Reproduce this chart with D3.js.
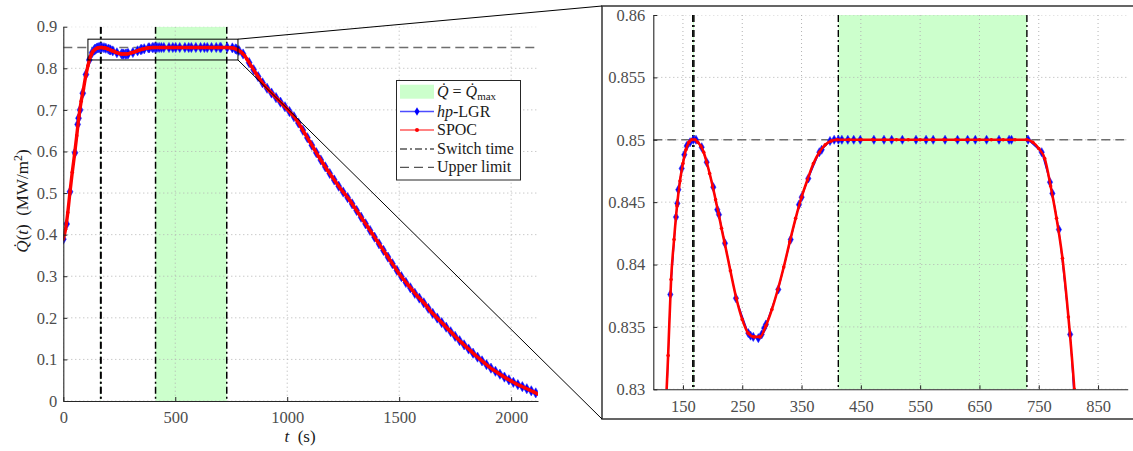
<!DOCTYPE html>
<html>
<meta charset=utf-8>
<head>
<script src="https://d3js.org/d3.v7.min.js"></script>
<style>
body { margin: 0; background: #fff; }
text { font-family: "Liberation Serif", "Times New Roman", serif; }
</style>
</head>
<body>
<script>

// switching structure / constraint
var switchTimes = [166.5, 168.5, 412, 730];
var maxArcStart = [166.5, 412];
var maxArcEnd = [168.5, 730];
var upperLimit = [0.85];

// SPOC solution (dense)
var spocTime = [0,10,20,30,40,50,60,70,80,90,100,110,120,125,130,135,140,145,150,155,160,165,170,175,180,185,190,195,200,205,210,215,220,230,240,250,260,270,280,290,300,310,320,330,340,350,360,370,380,390,400,
  410,430,450,470,490,510,530,550,570,590,610,630,650,670,690,710,730,740,750,760,770,780,790,800,810,820,
  840,860,880,900,920,940,960,980,1000,1020,1040,1060,1080,1100,1120,1140,1160,1180,1200,1220,1240,1260,1280,1300,
  1320,1340,1360,1380,1400,1420,1440,1460,1480,1500,1520,1540,1560,1580,1600,1620,1640,1660,1680,1700,1720,1740,1760,
  1780,1800,1820,1840,1860,1880,1900,1920,1940,1960,1980,2000,2020,2040,2060,2080,2100,2118];
var spocQ = [0.389,0.413,0.453,0.503,0.550,0.592,0.638,0.685,0.721,0.750,0.781,0.806,0.827,0.8327,0.8388,0.8420,0.8447,0.8467,0.8481,0.8492,0.8498,0.8500,0.8500,0.8498,0.8495,0.8490,0.8482,0.8473,0.8463,0.8452,0.8441,0.8429,0.8418,0.8395,0.8373,0.8356,0.8345,0.8342,0.8342,0.8351,0.8364,0.8380,0.8398,0.8418,0.8437,0.8454,0.8468,0.8481,0.8490,0.8496,0.8499,
  0.85,0.85,0.85,0.85,0.85,0.85,0.85,0.85,0.85,0.85,0.85,0.85,0.85,0.85,0.85,0.85,0.85,0.8498,0.8493,0.8485,0.8463,0.8437,0.8405,0.8358,0.8300,0.8220,
  0.805,0.788,0.772,0.758,0.746,0.735,0.724,0.713,0.702,0.690,0.677,0.660,0.642,0.624,0.606,0.588,0.571,0.555,0.539,0.524,0.509,0.496,0.482,0.466,
  0.450,0.434,0.418,0.402,0.386,0.370,0.354,0.338,0.322,0.306,0.292,0.279,0.266,0.253,0.242,0.230,0.216,0.205,0.194,0.183,0.172,0.161,0.150,
  0.140,0.130,0.120,0.110,0.101,0.092,0.083,0.075,0.068,0.061,0.054,0.048,0.042,0.037,0.032,0.027,0.022,0.017];

// hp-LGR solution (mesh points)
var hpTime = [0,15,30,52,64,68,75,87,101,116,128.7,138.3,140.5,142.2,147.9,152.3,156.3,162,167.5,172,181.6,190,201.2,207.9,210.8,220.9,239.4,260.2,264,268.6,277.1,282.8,287,290,310.8,331.7,345.7,350.2,361.4,380,384,398,
  405,412,418,428,438,449,472,489,502,520,543,560,572,592,613,630,643,662,683,700,704,732,755,769,773,784,803,
  830,850,870,890,910,930,950,970,990,1010,1030,1050,1070,1090,1110,1130,1150,1170,1190,1210,1230,1250,1270,1290,1310,1330,1350,1370,1390,1410,1430,1450,1470,1490,
  1510,1530,1550,1570,1590,1610,1630,1650,1670,1690,1710,1730,1750,1770,1790,1810,1830,1850,1870,1890,1910,1930,1950,1970,1990,2010,2030,2050,2070,2090,2110];
var hpQ = [0.389,0.4256,0.503,0.597,0.665,0.680,0.700,0.740,0.785,0.820,0.8376,0.8438,0.8449,0.8460,0.8477,0.8488,0.8495,0.8498,0.8500,0.8500,0.8494,0.8482,0.8462,0.8444,0.8440,0.8417,0.8373,0.8345,0.8343,0.8342,0.8341,0.8344,0.8349,0.8352,0.8380,0.8420,0.8448,0.8454,0.8469,0.8490,0.8492,0.8499,
  0.85,0.85,0.85,0.85,0.85,0.85,0.85,0.85,0.85,0.85,0.85,0.85,0.85,0.85,0.85,0.85,0.85,0.85,0.85,0.85,0.85,0.85,0.8490,0.8466,0.8457,0.8428,0.8344,
  0.8135,0.7965,0.780,0.765,0.752,0.7405,0.7295,0.7185,0.7075,0.696,0.6835,0.6685,0.651,0.633,0.615,0.597,0.5795,0.563,0.547,0.5315,0.5165,0.5025,0.489,0.474,0.458,0.442,0.426,0.410,0.394,0.378,0.362,0.346,0.330,0.314,
  0.299,0.285,0.272,0.259,0.2475,0.236,0.223,0.2105,0.1995,0.1885,0.1775,0.1665,0.1555,0.145,0.135,0.125,0.115,0.1055,0.0965,0.0875,0.079,0.0715,0.0645,0.0575,0.051,0.045,0.0395,0.0345,0.0295,0.0245,0.0195];

// axes
var xTicksMain = [0,500,1000,1500,2000];
var yTicksMain = [0,0.1,0.2,0.3,0.4,0.5,0.6,0.7,0.8,0.9];
var xTicksZoom = [150,250,350,450,550,650,750,850];
var yTicksZoom = [0.83,0.835,0.84,0.845,0.85,0.855,0.86];
var zoomT = [110, 780];
var zoomQ = [0.82, 0.87];

var legendLabels = ["Qmax", "hp-LGR", "SPOC", "Switch time", "Upper limit"];

var W = 1133, H = 451;
var svg = d3.select("body").append("svg").attr("width", W).attr("height", H);

var spoc = spocTime.map(function(t, i){ return [t, spocQ[i]]; });
var hp = hpTime.map(function(t, i){ return [t, hpQ[i]]; });

var xL = d3.scaleLinear().domain([0, 2120]).range([63.3, 538]);
var yL = d3.scaleLinear().domain([0, 0.9]).range([401, 26.7]);
var xR = d3.scaleLinear().domain([100, 900]).range([653.3, 1127.7]);
var yR = d3.scaleLinear().domain([0.83, 0.86]).range([389.3, 15]);

function panel(id, x, y, xTicks, yTicks, yFmt, yPad, swWidth, mSize, redW) {
  var g = svg.append("g");
  var x0 = x.range()[0], x1 = x.range()[1], y0 = y.range()[1], y1 = y.range()[0];

  g.append("clipPath").attr("id", id)
    .append("rect").attr("x", x0).attr("y", y0).attr("width", x1 - x0).attr("height", y1 - y0);
  var c = g.append("g").attr("clip-path", "url(#" + id + ")");

  // Qdot = Qmax arcs
  c.selectAll(".arc").data(maxArcStart).enter().append("rect")
    .attr("x", function(d){ return x(d); })
    .attr("width", function(d, i){ return x(maxArcEnd[i]) - x(d); })
    .attr("y", y0).attr("height", y1 - y0)
    .attr("fill", "#ccffcc");

  // dotted grid
  c.selectAll(".gx").data(xTicks).enter().append("line")
    .attr("x1", x).attr("x2", x).attr("y1", y0).attr("y2", y1)
    .attr("stroke", "#b3b3b3").attr("stroke-width", 1).attr("stroke-dasharray", "1,3");
  c.selectAll(".gy").data(yTicks).enter().append("line")
    .attr("x1", x0).attr("x2", x1).attr("y1", y).attr("y2", y)
    .attr("stroke", "#b3b3b3").attr("stroke-width", 1).attr("stroke-dasharray", "1,3");

  // upper limit
  c.selectAll(".ul").data(upperLimit).enter().append("line")
    .attr("x1", x0).attr("x2", x1).attr("y1", y).attr("y2", y)
    .attr("stroke", "#6e6e6e").attr("stroke-width", 1.3).attr("stroke-dasharray", "9,5");

  // switch times
  c.selectAll(".sw").data(switchTimes).enter().append("line")
    .attr("x1", x).attr("x2", x).attr("y1", y0).attr("y2", y1)
    .attr("stroke", "#000").attr("stroke-width", swWidth).attr("stroke-dasharray", "7,3,2,3");

  var line = d3.line().x(function(d){ return x(d[0]); }).y(function(d){ return y(d[1]); });

  c.append("path").datum(hp).attr("d", line)
    .attr("fill", "none").attr("stroke", "#0000ff").attr("stroke-width", 1.2);
  c.selectAll(".hp").data(hp).enter().append("path")
    .attr("transform", function(d){ return "translate(" + x(d[0]) + "," + y(d[1]) + ")"; })
    .attr("d", d3.symbol().type(d3.symbolDiamond).size(mSize))
    .attr("fill", "#0000ff").attr("stroke", "#2a2aff").attr("stroke-width", 0.6);

  c.append("path").datum(spoc).attr("d", d3.line().curve(d3.curveMonotoneX).x(function(d){ return x(d[0]); }).y(function(d){ return y(d[1]); }))
    .attr("fill", "none").attr("stroke", "#ff0000").attr("stroke-width", redW);
  c.selectAll(".sp").data(spoc).enter().append("circle")
    .attr("cx", function(d){ return x(d[0]); }).attr("cy", function(d){ return y(d[1]); })
    .attr("r", 1.8).attr("fill", "#ff0000");

  // axes
  var ax = g.append("g").attr("transform", "translate(0," + y1 + ")")
    .call(d3.axisBottom(x).tickValues(xTicks).tickSizeInner(-4).tickSizeOuter(0).tickPadding(10.5).tickFormat(d3.format("d")));
  var ay = g.append("g").attr("transform", "translate(" + x0 + ",0)")
    .call(d3.axisLeft(y).tickValues(yTicks).tickSizeInner(-4).tickSizeOuter(0).tickPadding(yPad).tickFormat(yFmt));
  [ax, ay].forEach(function(a){
    a.select(".domain").attr("stroke", "#262626").attr("stroke-width", 1.1);
    a.selectAll(".tick line").attr("stroke", "#262626");
    a.selectAll(".tick text").attr("fill", "#4d4d4d").style("font-size", "16.5px")
      .style("font-family", '"Liberation Serif", serif');
  });
  return g;
}

panel("clipL", xL, yL, xTicksMain, yTicksMain, d3.format(".1~f"), 6, 1.5, 30, 3.4);

// inset frame
svg.append("rect").attr("x", 602).attr("y", 6).attr("width", 540).attr("height", 413)
  .attr("fill", "#fff").attr("stroke", "#333").attr("stroke-width", 1.5);

panel("clipR", xR, yR, xTicksZoom, yTicksZoom, d3.format(".3~f"), 8, 1.4, 24, 2.6);

// zoom box + connectors
svg.append("rect")
  .attr("x", xL(zoomT[0])).attr("y", yL(zoomQ[1]))
  .attr("width", xL(zoomT[1]) - xL(zoomT[0])).attr("height", yL(zoomQ[0]) - yL(zoomQ[1]))
  .attr("fill", "none").attr("stroke", "#000").attr("stroke-width", 1);
svg.append("line").attr("x1", xL(zoomT[1])).attr("y1", yL(zoomQ[1])).attr("x2", 602).attr("y2", 6)
  .attr("stroke", "#000").attr("stroke-width", 1);
svg.append("line").attr("x1", xL(zoomT[1])).attr("y1", yL(zoomQ[0])).attr("x2", 602).attr("y2", 419)
  .attr("stroke", "#000").attr("stroke-width", 1);

// axis labels
var yl = svg.append("text").attr("transform", "translate(28,201) rotate(-90)")
  .attr("text-anchor", "middle").attr("fill", "#1a1a1a").style("font-size", "17px");
yl.append("tspan").style("font-style", "italic").text("Q\u0307");
yl.append("tspan").text("(");
yl.append("tspan").style("font-style", "italic").text("t");
yl.append("tspan").text(")\u2002(MW/m");
yl.append("tspan").attr("dy", -6).style("font-size", "12px").text("2");
yl.append("tspan").attr("dy", 6).text(")");

var xl = svg.append("text").attr("x", 300).attr("y", 442)
  .attr("text-anchor", "middle").attr("fill", "#1a1a1a").style("font-size", "17px");
xl.append("tspan").style("font-style", "italic").text("t");
xl.append("tspan").text("\u2002(s)");

// legend
var lg = svg.append("g");
lg.append("rect").attr("x", 396.5).attr("y", 80.5).attr("width", 124).attr("height", 99.5)
  .attr("fill", "#fff").attr("stroke", "#262626").attr("stroke-width", 1);
var rowY = [91.7, 111.5, 130, 149, 167.3];
var sx0 = 400, sx1 = 434, tx = 437;
lg.append("rect").attr("x", sx0).attr("y", rowY[0] - 7).attr("width", sx1 - sx0).attr("height", 14).attr("fill", "#ccffcc");
lg.append("line").attr("x1", sx0).attr("x2", sx1).attr("y1", rowY[1]).attr("y2", rowY[1]).attr("stroke", "#4d4dff").attr("stroke-width", 1.4);
lg.append("path").attr("transform", "translate(" + (sx0 + sx1) / 2 + "," + rowY[1] + ")")
  .attr("d", d3.symbol().type(d3.symbolDiamond).size(22)).attr("fill", "#0000ff");
lg.append("line").attr("x1", sx0).attr("x2", sx1).attr("y1", rowY[2]).attr("y2", rowY[2]).attr("stroke", "#ff5a5a").attr("stroke-width", 1.4);
lg.append("circle").attr("cx", (sx0 + sx1) / 2).attr("cy", rowY[2]).attr("r", 2).attr("fill", "#ff0000");
lg.append("line").attr("x1", sx0).attr("x2", sx1).attr("y1", rowY[3]).attr("y2", rowY[3]).attr("stroke", "#000").attr("stroke-width", 1.2).attr("stroke-dasharray", "7,3,2,3");
lg.append("line").attr("x1", sx0).attr("x2", sx1).attr("y1", rowY[4]).attr("y2", rowY[4]).attr("stroke", "#555").attr("stroke-width", 1.2).attr("stroke-dasharray", "9,5");

var t0 = lg.append("text").attr("x", tx).attr("y", rowY[0] + 5).attr("fill", "#1a1a1a").style("font-size", "16px");
t0.append("tspan").style("font-style", "italic").text("Q\u0307");
t0.append("tspan").text(" = ");
t0.append("tspan").style("font-style", "italic").text("Q\u0307");
t0.append("tspan").attr("dy", 3).style("font-size", "11px").text("max");
var t1 = lg.append("text").attr("x", tx).attr("y", rowY[1] + 5).attr("fill", "#1a1a1a").style("font-size", "16px");
t1.append("tspan").style("font-style", "italic").text("hp");
t1.append("tspan").text("-LGR");
[2, 3, 4].forEach(function(i){
  lg.append("text").attr("x", tx).attr("y", rowY[i] + 5).attr("fill", "#1a1a1a").style("font-size", "16px").text(legendLabels[i]);
});

</script>
</body>
</html>
